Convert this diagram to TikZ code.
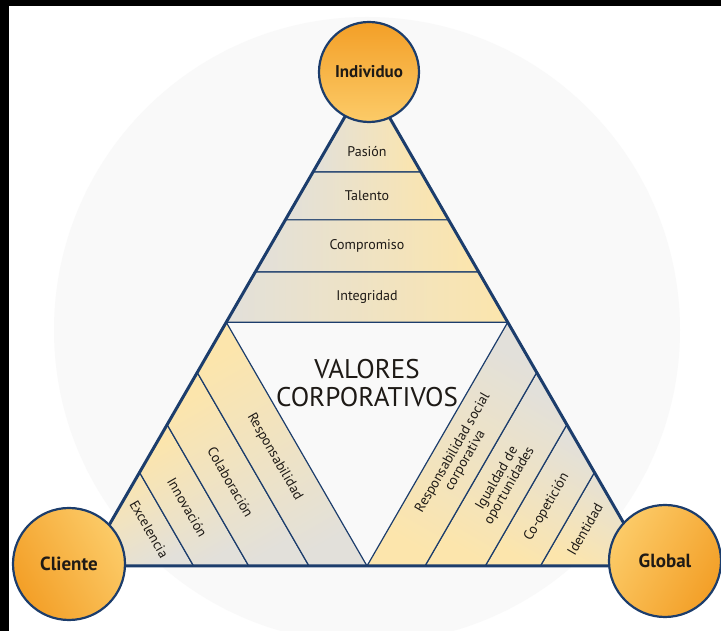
\documentclass[tikz,border=0pt]{standalone}
\usepackage{fontspec}
\setmainfont{PT Sans}
\usetikzlibrary{calc}

\definecolor{navy}{HTML}{1C3D6C}
\definecolor{bandgray}{HTML}{E2E0DA}
\definecolor{bandyellow}{HTML}{FCE5AC}
\definecolor{polelight}{HTML}{FCCB68}
\definecolor{poledark}{HTML}{F39F27}
\definecolor{haze}{HTML}{F9F9F9}
\definecolor{ink}{HTML}{1E1A16}

\begin{document}
\begin{tikzpicture}[
  x=1pt, y=1pt,
  band/.style={draw=navy, line width=1.2pt, top color=bandgray, bottom color=bandyellow, shading angle=#1},
  rim/.style={draw=navy, line width=3pt, line join=round},
  pole/.style={circle, draw=navy, line width=2.2pt, top color=poledark, bottom color=polelight, text=ink, font=\fontsize{19}{19}\selectfont\bfseries},
  valor/.style={text=ink, font=\fontsize{14}{14.5}\selectfont, align=center},
  titulo/.style={text=ink, font=\fontsize{27}{28}\selectfont, align=center}
  ]

  \clip (0,0) rectangle (721,631);
  \fill[black] (0,0) rectangle (721,631);
  \fill[white] (9,0) rectangle (721,625);
  \fill[haze] (367,301) circle (313);

  \coordinate (A) at (367,552.5);
  \coordinate (B) at (85.5,65);
  \coordinate (C) at (648.5,65);

  % bandas de cada esquina
  \foreach \p/\q in {0/0.192, 0.192/0.29, 0.29/0.397, 0.397/0.5} {
    \draw[band=90] ($(A)!\p!(B)$) -- ($(A)!\p!(C)$) -- ($(A)!\q!(C)$) -- ($(A)!\q!(B)$) -- cycle;
    \draw[band=210] ($(B)!\p!(C)$) -- ($(B)!\p!(A)$) -- ($(B)!\q!(A)$) -- ($(B)!\q!(C)$) -- cycle;
    \draw[band=-30] ($(C)!\p!(A)$) -- ($(C)!\p!(B)$) -- ($(C)!\q!(B)$) -- ($(C)!\q!(A)$) -- cycle;
  }
  \draw[rim] (A) -- (B) -- (C) -- cycle;

  \node[titulo] (valores) at (367,248) {VALORES\\CORPORATIVOS};

  \node[valor] (pasion) at ($(A)+(270:73.5)$) {Pasión};
  \node[valor] (talento) at ($(A)+(270:117.5)$) {Talento};
  \node[valor] (compromiso) at ($(A)+(270:167.5)$) {Compromiso};
  \node[valor] (integridad) at ($(A)+(270:218.5)$) {Integridad};

  \node[valor, rotate=-60] (excelencia) at ($(B)+(30:73.5)$) {Excelencia};
  \node[valor, rotate=-60] (innovacion) at ($(B)+(30:117.5)$) {Innovación};
  \node[valor, rotate=-60] (colaboracion) at ($(B)+(30:167.5)$) {Colaboración};
  \node[valor, rotate=-60] (responsabilidad) at ($(B)+(30:218.5)$) {Responsabilidad};

  \node[valor, rotate=60] (identidad) at ($(C)+(150:73.5)$) {Identidad};
  \node[valor, rotate=60] (coopeticion) at ($(C)+(150:117.5)$) {Co-opetición};
  \node[valor, rotate=60] (igualdad) at ($(C)+(150:167.5)$) {Igualdad de\\oportunidades};
  \node[valor, rotate=60] (rsc) at ($(C)+(150:218.5)$) {Responsabilidad social\\corporativa};

  \node[pole, minimum size=100, shading angle=0, font=\fontsize{17}{17}\selectfont\bfseries] (individuo) at (369,559) {Individuo};
  \node[pole, minimum size=112, shading angle=120] (cliente) at (69,67) {Cliente};
  \node[pole, minimum size=112, shading angle=240] (global) at (665,70) {Global};

\end{tikzpicture}
\end{document}
